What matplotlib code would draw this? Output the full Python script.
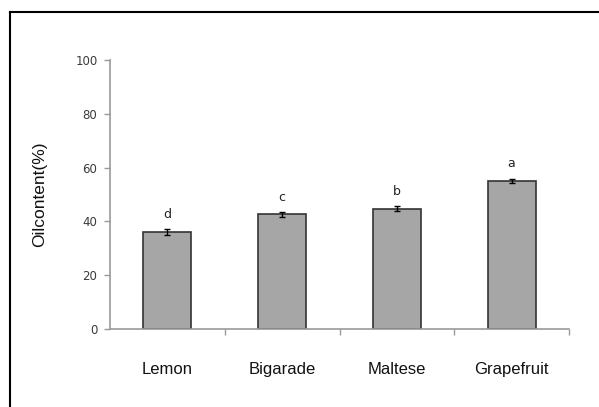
import numpy as np
import matplotlib.pyplot as plt
from matplotlib.lines import Line2D

# oil content of peel oils per citrus variety
varieties = ['Lemon', 'Bigarade', 'Maltese', 'Grapefruit']
oil_content = [36.0, 42.6, 44.7, 55.0]
oil_err = [1.2, 0.9, 1.0, 0.9]
letters = ['d', 'c', 'b', 'a']

fig = plt.figure(figsize=(5.99, 4.07), dpi=100)
ax = fig.add_axes([110/599, 1-329/407, 459/599, 269/407])

x = np.arange(len(varieties)) + 0.5
ax.bar(x, oil_content, width=0.42, color='#a6a6a6', edgecolor='#333333',
       linewidth=1.2, zorder=2)
ax.errorbar(x, oil_content, yerr=oil_err, fmt='none', ecolor='black',
            elinewidth=1.0, capsize=2.5, capthick=1.0, zorder=3)

for xi, v, e, lab in zip(x, oil_content, oil_err, letters):
    ax.annotate(lab, (xi, v + e), xytext=(0, 6), textcoords='offset points',
                ha='center', va='bottom', fontsize=9, color='#222222')

ax.set_xlim(0, 4)
ax.set_ylim(0, 100)
ax.set_yticks([0, 20, 40, 60, 80, 100])
ax.tick_params(axis='y', labelsize=8.5, colors='#3a3a3a', length=4,
               width=1, color='#999999', pad=5)

# category boundary ticks, names centered under the bars
ax.set_xticks([1, 2, 3, 4])
ax.set_xticklabels([])
ax.tick_params(axis='x', which='major', length=4, width=1, color='#999999')
ax.set_xticks(x, minor=True)
ax.set_xticklabels(varieties, minor=True, fontsize=12,
                   family='Liberation Sans', color='#111111')
ax.tick_params(axis='x', which='minor', length=0, pad=24)

ax.set_ylabel('Oilcontent(%)', fontsize=12.5, family='Liberation Sans',
              color='#111111', labelpad=20)

for side in ['top', 'right']:
    ax.spines[side].set_visible(False)
for side in ['left', 'bottom']:
    ax.spines[side].set_color('#999999')
    ax.spines[side].set_linewidth(1.2)

# frame lines along the top and left of the figure
fig.add_artist(Line2D([10/599, 1], [1-12/407, 1-12/407], color='black', lw=1.5))
fig.add_artist(Line2D([10/599, 10/599], [0, 1-12/407], color='black', lw=1.5))

fig.savefig('out.png', dpi=100)
